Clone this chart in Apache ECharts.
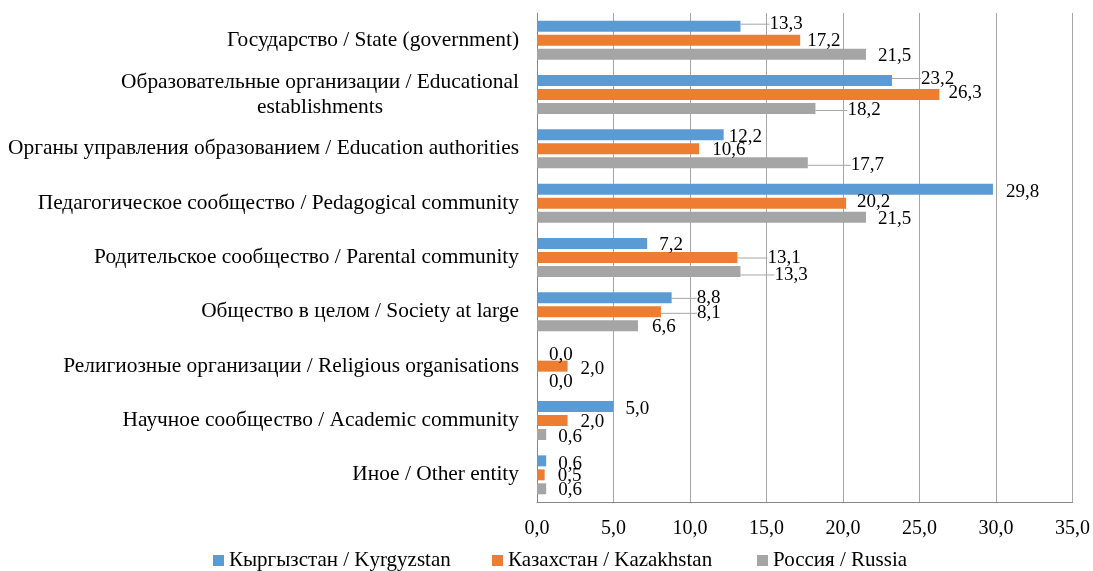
<!DOCTYPE html>
<html>
<head>
<meta charset="utf-8">
<script src="https://cdn.jsdelivr.net/npm/echarts@6/dist/echarts.min.js"></script>
<style>html,body{margin:0;padding:0;background:#fff;}#c{width:1093px;height:571px;}</style>
</head>
<body>
<div id="c"></div>
<script>
const categories = [
  'Государство / State (government)',
  'Образовательные организации / Educational\nestablishments',
  'Органы управления образованием / Education authorities',
  'Педагогическое сообщество / Pedagogical community',
  'Родительское сообщество / Parental community',
  'Общество в целом / Society at large',
  'Религиозные организации / Religious organisations',
  'Научное сообщество / Academic community',
  'Иное / Other entity'
];
const seriesNames = ['Кыргызстан / Kyrgyzstan', 'Казахстан / Kazakhstan', 'Россия / Russia'];
const kyrgyzstan = [13.3, 23.2, 12.2, 29.8, 7.2, 8.8, 0.0, 5.0, 0.6];
const kazakhstan = [17.2, 26.3, 10.6, 20.2, 13.1, 8.1, 2.0, 2.0, 0.5];
const russia     = [21.5, 18.2, 17.7, 21.5, 13.3, 6.6, 0.0, 0.6, 0.6];
const xTicks = { min: 0, max: 35, interval: 5 };

// label placement tweaks (layout only)
const labelShift = [
  [[24,-2],[24,-2],[0,2.5],[8,2.5],[7,1.5],[20,0.5],[7,2.5],[7,2],[7,3]],
  [[2,0.5],[4,-1],[8,1.5],[6,-1],[25,0.5],[31,1.5],[8,2.5],[8,1.5],[8,1.5]],
  [[7,1.5],[27,2],[38,2.5],[7,1.5],[29,3.5],[9,1.5],[7,2],[7,2.5],[7,1.5]]
];
const leaders = [[0,1,5],[4,5],[1,2,4]];
const colors = ['#5b9bd5', '#ed7d31', '#a5a5a5'];
const FONT = '"Liberation Serif", "Times New Roman", serif';
const CAT_SIZE = 21.4;
const fmt = v => Number(v).toFixed(1).replace('.', ',');

const ctx = document.createElement('canvas').getContext('2d');
ctx.font = CAT_SIZE + 'px "Liberation Serif"';
const measure = s => Math.ceil(ctx.measureText(s).width);

const chart = echarts.init(document.getElementById('c'), null, { renderer: 'canvas' });
const values = [kyrgyzstan, kazakhstan, russia];

const series = values.map((arr, si) => ({
  name: seriesNames[si],
  type: 'bar',
  barWidth: 11,
  barGap: '27%',
  itemStyle: { color: colors[si] },
  data: arr.map((v, di) => ({
    value: v,
    labelLine: { show: leaders[si].indexOf(di) >= 0 }
  })),
  label: {
    show: true,
    position: 'right',
    distance: 5,
    formatter: p => fmt(p.value),
    fontFamily: FONT,
    fontSize: 19,
    color: '#000'
  },
  labelLine: { show: false, lineStyle: { color: '#a6a6a6', width: 1 } },
  labelLayout: params => ({ dx: labelShift[si][params.dataIndex][0], dy: labelShift[si][params.dataIndex][1] })
}));

const legends = seriesNames.map((n, i) => ({
  data: [n],
  left: [213, 492, 757][i],
  top: 550,
  padding: 0,
  icon: 'rect',
  itemWidth: 11,
  itemHeight: 11,
  textStyle: { fontFamily: FONT, fontSize: 21, color: '#000' },
  selectedMode: false
}));

chart.setOption({
  animation: false,
  backgroundColor: '#fff',
  grid: { left: 537, right: 19, top: 13, bottom: 69, containLabel: false },
  legend: legends,
  xAxis: {
    type: 'value',
    min: xTicks.min, max: xTicks.max, interval: xTicks.interval,
    axisLine: { show: true, lineStyle: { color: '#868686', width: 1 } },
    axisTick: { show: false },
    splitLine: { show: true, lineStyle: { color: '#a6a6a6', width: 1 } },
    axisLabel: { formatter: v => fmt(v), fontFamily: FONT, fontSize: 20, color: '#000', margin: 17 }
  },
  yAxis: {
    type: 'category',
    inverse: true,
    data: categories,
    axisLine: { show: true, lineStyle: { color: '#868686', width: 1 } },
    axisTick: { show: false },
    axisLabel: {
      fontFamily: FONT, fontSize: CAT_SIZE, color: '#000', margin: 18, lineHeight: 25,
      formatter: v => {
        const lines = v.split('\n');
        if (lines.length > 1) {
          const w = Math.max.apply(null, lines.map(measure));
          return lines.map(l => '{c' + w + '|' + l + '}').join('\n');
        }
        return v;
      },
      rich: (function () {
        const r = {};
        categories.forEach(c => {
          const lines = c.split('\n');
          if (lines.length > 1) {
            const w = Math.max.apply(null, lines.map(measure));
            r['c' + w] = { width: w, align: 'center', fontFamily: FONT, fontSize: CAT_SIZE, color: '#000', lineHeight: 25 };
          }
        });
        return r;
      })()
    }
  },
  series: series
});
</script>
</body>
</html>
